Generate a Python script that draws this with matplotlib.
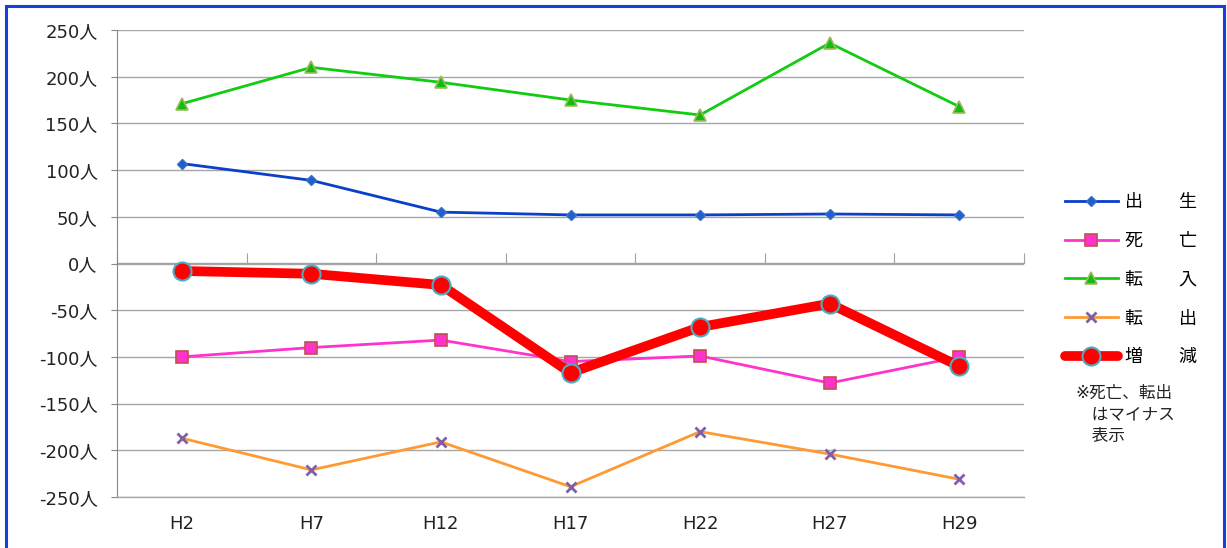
import matplotlib.pyplot as plt
from matplotlib.patches import Rectangle

plt.rcParams['font.family'] = ['DejaVu Sans', 'Noto Sans CJK JP']

years = ['H2', 'H7', 'H12', 'H17', 'H22', 'H27', 'H29']
birth = [107, 89, 55, 52, 52, 53, 52]        # 出生
death = [-100, -90, -82, -105, -99, -128, -100]  # 死亡
move_in = [171, 210, 194, 175, 159, 236, 168]    # 転入
move_out = [-187, -221, -191, -239, -180, -204, -231]  # 転出
change = [-8, -11, -23, -117, -68, -43, -110]    # 増減
yticks = [-250, -200, -150, -100, -50, 0, 50, 100, 150, 200, 250]

fig = plt.figure(figsize=(12.27, 5.48), dpi=100)
ax = fig.add_axes([117 / 1227, 1 - 497 / 548, 907 / 1227, 467 / 548])

x = range(len(years))
ax.plot(x, birth, color='#0a3fc8', lw=2, marker='D', ms=5,
        mfc='#1f5fd0', mec='#3a6fc0', label='出　　生')
ax.plot(x, death, color='#ff33cc', lw=2, marker='s', ms=8,
        mfc='#ff33cc', mec='#c0504d', mew=1.2, label='死　　亡')
ax.plot(x, move_in, color='#11cc11', lw=2, marker='^', ms=8,
        mfc='#11bb11', mec='#9bbb59', mew=1.2, label='転　　入')
ax.plot(x, move_out, color='#ff9933', lw=2, marker='x', ms=7,
        mec='#7f60a8', mew=2, label='転　　出')
ax.plot(x, change, color='#ff0000', lw=7, marker='o', ms=13,
        mfc='#ff0000', mec='#4bacc6', mew=1.5, solid_capstyle='round',
        label='増　　減', zorder=5)

ax.set_xlim(-0.5, len(years) - 0.5)
ax.set_ylim(-250, 250)
ax.set_yticks(yticks)
ax.set_yticklabels([f'{v}人' for v in yticks])
ax.set_xticks(list(x))
ax.set_xticklabels(years)
ax.tick_params(axis='x', length=0, pad=13, labelsize=13, labelcolor='#222222')
ax.tick_params(axis='y', length=4, pad=10, color='#888888', labelsize=13,
               labelcolor='#222222')
ax.grid(axis='y', color='#a6a6a6', lw=1)
ax.set_axisbelow(True)
for s in ['top', 'right']:
    ax.spines[s].set_visible(False)
ax.spines['left'].set_color('#888888')
ax.spines['bottom'].set_color('#a6a6a6')
ax.spines['bottom'].set_linewidth(1)

# 0人 の位置にカテゴリ境界の目盛り
sec = ax.secondary_xaxis(0.5)
sec.set_xticks([i - 0.5 for i in range(len(years) + 1)])
sec.set_xticklabels([])
sec.tick_params(length=7, color='#a0a0a0')
for sp in sec.spines.values():
    sp.set_color('#a0a0a0')
    sp.set_linewidth(1)

leg = fig.legend(loc='upper left', bbox_to_anchor=(1058 / 1227, 1 - 186 / 548),
                 frameon=False, fontsize=13, handlelength=2.9,
                 labelspacing=1.15, handletextpad=0.4, borderaxespad=0)

fig.text(1075 / 1227, 1 - 384 / 548, '※死亡、転出\n　はマイナス\n　表示',
         fontsize=12, va='top', ha='left', linespacing=1.25, color='#222222')

fig.patches.append(Rectangle((6 / 1227, -0.05), 1218 / 1227, 1.05 - 6 / 548,
                             transform=fig.transFigure, fill=False,
                             ec='#1a3fd6', lw=2.2))

fig.savefig('out.png', dpi=100)
